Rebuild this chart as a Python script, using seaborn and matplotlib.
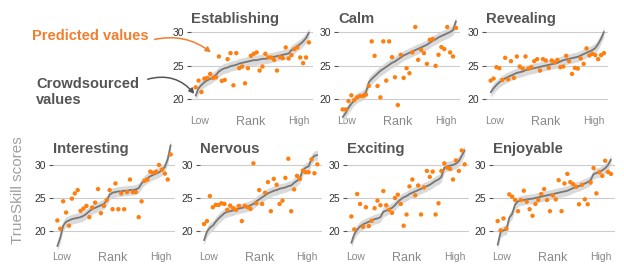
import numpy as np
import matplotlib
matplotlib.use("Agg")
import matplotlib.pyplot as plt
import seaborn as sns

# ---------------------------
# Data
# ---------------------------
establishing_crowd = [20.5, 21.6, 22.1, 22.5, 22.8, 23.0, 23.3, 23.6, 24.1, 24.4,
                      24.6, 24.7, 24.9, 25.0, 25.1, 25.3, 25.4, 25.5, 25.6, 25.7,
                      25.8, 25.8, 25.9, 26.0, 26.0, 26.1, 26.2, 26.3, 26.4, 26.5,
                      26.6, 26.7, 26.8, 27.3, 27.6, 27.9, 28.2, 28.6, 29.1, 29.9]
establishing_pred = [21.75, 22.75, 21.05, 23.05, 23.15, 23.75, 23.15, 23.25, 26.35, 22.7,
                     22.85, 25.95, 26.85, 22.05, 26.85, 24.6, 24.85, 22.35, 24.6, 26.45,
                     26.75, 26.95, 24.25, 24.85, 26.75, 26.2, 26.2, 25.85, 24.25, 26.25,
                     26.1, 27.7, 26.05, 26.55, 27.45, 27.7, 26.2, 25.35, 26.2, 28.45]

calm_crowd = [17.3, 17.9, 18.7, 19.3, 19.8, 20.2, 20.4, 20.6, 21.0, 22.5,
              23.0, 23.4, 23.8, 24.2, 24.5, 24.8, 25.1, 25.4, 25.6, 25.9,
              26.2, 26.5, 26.7, 26.9, 27.1, 27.3, 27.5, 27.7, 27.9, 28.1,
              28.4, 28.7, 28.9, 29.2, 29.4, 29.6, 29.8, 30.0, 30.3, 31.6]
calm_pred = [18.45, 18.45, 19.7, 20.55, 19.85, 20.25, 20.45, 20.45, 20.65, 21.95,
             28.6, 26.45, 21.95, 20.25, 28.6, 22.75, 28.6, 26.25, 23.25, 19.1,
             26.6, 23.15, 24.6, 23.85, 26.95, 30.75, 25.85, 27.35, 26.85, 25.25,
             28.85, 28.95, 24.95, 26.6, 27.75, 27.45, 30.75, 26.95, 26.35, 30.6]

revealing_crowd = [21.0, 21.6, 22.1, 22.5, 22.8, 23.1, 23.3, 23.5, 23.7, 23.9,
                   24.0, 24.1, 24.3, 24.4, 24.5, 24.6, 24.7, 24.8, 24.9, 25.0,
                   25.1, 25.2, 25.3, 25.4, 25.6, 25.8, 25.9, 26.0, 26.1, 26.2,
                   26.3, 26.5, 26.7, 26.9, 27.1, 27.3, 27.6, 28.2, 29.0, 30.0]
revealing_pred = [22.75, 23.05, 24.75, 24.6, 22.85, 26.15, 22.95, 25.65, 23.15, 26.35,
                  24.85, 24.55, 26.35, 24.55, 24.75, 25.65, 25.95, 24.25, 25.95, 25.75,
                  24.65, 25.75, 25.45, 25.85, 24.75, 24.85, 26.45, 25.65, 23.75, 24.65,
                  24.55, 26.05, 25.25, 27.55, 26.5, 26.75, 26.55, 25.95, 26.55, 26.85]

interesting_crowd = [17.7, 19.0, 20.8, 21.4, 21.6, 21.8, 21.9, 22.0, 22.1, 22.3,
                     22.6, 23.0, 23.3, 23.5, 23.7, 23.9, 24.1, 24.6, 25.5, 25.8,
                     25.9, 26.0, 26.0, 26.1, 26.1, 26.2, 26.2, 26.3, 26.5, 27.2,
                     27.7, 28.0, 28.3, 28.5, 28.7, 28.9, 29.2, 29.7, 30.9, 33.0]
interesting_pred = [21.6, 20.35, 24.5, 22.8, 20.8, 24.9, 25.7, 26.2, 23.05, 23.4,
                    23.8, 22.1, 23.55, 24.3, 26.35, 22.7, 23.8, 24.7, 26.2, 23.3,
                    27.2, 23.3, 25.7, 23.3, 25.9, 27.8, 25.9, 25.9, 22.1, 24.5,
                    27.6, 27.8, 29.0, 28.8, 29.0, 30.0, 29.3, 28.7, 27.8, 31.6]

nervous_crowd = [18.6, 19.9, 20.5, 20.8, 21.4, 21.9, 22.3, 22.7, 22.9, 23.0,
                 23.1, 23.3, 23.4, 23.5, 23.6, 23.7, 23.9, 24.1, 24.5, 24.8,
                 25.1, 25.4, 25.7, 25.9, 26.1, 26.2, 26.4, 26.5, 26.6, 26.8,
                 26.9, 27.3, 27.6, 28.0, 29.2, 29.6, 29.8, 30.9, 31.4, 31.5]
nervous_pred = [21.05, 21.5, 25.3, 23.6, 23.95, 23.95, 24.2, 24.1, 23.2, 23.85,
                23.45, 23.2, 23.8, 21.5, 23.8, 23.6, 23.35, 30.25, 24.2, 26.2,
                24.1, 25.8, 27.4, 23.0, 27.9, 27.0, 24.1, 24.6, 28.05, 30.95,
                23.0, 26.3, 28.35, 27.9, 29.15, 28.9, 28.9, 30.85, 28.75, 30.1]

exciting_crowd = [18.2, 19.5, 20.2, 20.7, 21.0, 21.2, 21.4, 21.6, 21.8, 21.9,
                  22.1, 22.9, 23.1, 23.3, 23.5, 23.9, 24.4, 24.8, 25.1, 25.3,
                  25.6, 25.8, 26.0, 26.2, 26.4, 26.6, 26.8, 27.0, 27.3, 27.6,
                  27.8, 28.2, 29.6, 29.8, 29.9, 30.0, 30.2, 30.6, 31.4, 32.2]
exciting_pred = [22.2, 20.25, 25.6, 24.1, 20.65, 23.6, 20.75, 21.55, 23.45, 24.6,
                 23.9, 26.05, 23.9, 23.2, 22.75, 25.0, 25.5, 24.1, 20.8, 22.5,
                 26.75, 27.8, 25.4, 26.9, 22.5, 26.6, 29.1, 28.2, 29.0, 22.5,
                 24.2, 29.1, 30.25, 29.6, 29.4, 27.8, 30.7, 29.1, 32.2, 30.1]

enjoyable_crowd = [17.9, 19.8, 20.1, 20.2, 22.0, 22.6, 24.0, 24.5, 24.6, 24.7,
                   24.8, 24.85, 24.9, 25.0, 25.1, 25.2, 25.3, 25.4, 25.5, 25.6,
                   25.7, 25.8, 25.9, 26.0, 26.1, 26.3, 26.5, 26.7, 26.8, 27.0,
                   27.2, 27.4, 27.7, 28.6, 28.8, 28.9, 29.2, 29.5, 30.0, 30.8]
enjoyable_pred = [21.5, 20.1, 21.9, 20.35, 25.55, 25.2, 24.7, 23.0, 24.7, 26.1,
                  24.45, 23.3, 22.3, 24.1, 24.7, 25.6, 26.35, 24.7, 23.0, 25.4,
                  24.8, 27.7, 23.0, 27.2, 28.65, 27.4, 27.1, 26.7, 24.05, 27.0,
                  24.8, 24.05, 27.35, 29.55, 25.7, 28.9, 28.35, 30.65, 28.95, 28.65]

titles = ["Establishing", "Calm", "Revealing",
          "Interesting", "Nervous", "Exciting", "Enjoyable"]
crowd = [establishing_crowd, calm_crowd, revealing_crowd,
         interesting_crowd, nervous_crowd, exciting_crowd, enjoyable_crowd]
pred = [establishing_pred, calm_pred, revealing_pred,
        interesting_pred, nervous_pred, exciting_pred, enjoyable_pred]
band_halfwidth = 0.75

# ---------------------------
# Style
# ---------------------------
sns.set_theme(style="white")
plt.rcParams["font.family"] = ["Liberation Sans", "DejaVu Sans"]

ORANGE = "#ff7f0e"
LINE = "#777777"
BAND = "#d6d6d6"
TITLE = "#555555"

W, H = 624, 264
fig = plt.figure(figsize=(W / 100, H / 100), dpi=100)

# axes boxes in pixels (top edge, height) per row, plus left edges
top_rows = dict(top=18.6, height=97.2, ylim=(17.5, 32.0), pad=0.5, title_y=0.958)
bot_rows = dict(top=141.9, height=105.6, ylim=(17.5, 33.5), pad=3.0, title_y=0.892)
lefts = [191.3, 338.3, 486.3, 53.0, 199.7, 347.0, 493.3]
AX_W = 122.0

for i, name in enumerate(titles):
    row = top_rows if i < 3 else bot_rows
    l = lefts[i]
    ax = fig.add_axes([l / W, 1 - (row["top"] + row["height"]) / H,
                       AX_W / W, row["height"] / H])
    y = np.array(crowd[i])
    x = np.arange(len(y))
    ax.fill_between(x, y - band_halfwidth, y + band_halfwidth, color=BAND,
                    lw=0, alpha=0.9, clip_on=False, zorder=1)
    sns.lineplot(x=x, y=y, ax=ax, color=LINE, lw=1.3, zorder=2)
    ax.lines[-1].set_clip_on(False)
    sns.scatterplot(x=x, y=pred[i], ax=ax, color=ORANGE, s=10,
                    edgecolor="none", zorder=3)

    ax.set_xlim(-1.5, 40.5)
    ax.set_ylim(*row["ylim"])
    ax.set_yticks([20, 25, 30])
    ax.yaxis.grid(True, color="#cccccc", lw=0.8)
    ax.xaxis.grid(False)
    for s in ax.spines.values():
        s.set_visible(False)
    ax.tick_params(axis="y", left=True, length=3, width=0.8, color="#555555",
                   labelsize=7.5, labelcolor="#333333", pad=2)
    ax.set_xticks([1.5, 19.0, 35.5])
    ax.set_xticklabels(["Low", "Rank", "High"])
    ax.tick_params(axis="x", bottom=False, length=0, labelsize=7.5,
                   labelcolor="#888888", pad=row["pad"])
    ax.get_xticklabels()[1].set_fontsize(9)
    ax.set_xlabel("")
    ax.set_ylabel("")
    ax.text(0.0, row["title_y"], name, transform=ax.transAxes, ha="left",
            va="baseline", fontsize=10.7, fontweight="bold", color=TITLE)

# y label
fig.text(18 / W, 1 - 190 / H, "TrueSkill scores", rotation=90, ha="center",
         va="center", fontsize=11, color="#a0a0a0")

# annotations
fig.text(32 / W, 1 - 36 / H, "Predicted values", ha="left", va="center",
         fontsize=10.5, fontweight="bold", color="#f07f2e")
fig.text(36 / W, 1 - 92 / H, "Crowdsourced\nvalues", ha="left", va="center",
         fontsize=10.5, fontweight="bold", color="#555555", linespacing=1.15)

fig.add_artist(matplotlib.patches.FancyArrowPatch(
    (152 / W, 1 - 40 / H), (213 / W, 1 - 54 / H), transform=fig.transFigure,
    connectionstyle="arc3,rad=-0.25", arrowstyle="-|>,head_length=3,head_width=1.6",
    color="#f07f2e", lw=1.1))
fig.add_artist(matplotlib.patches.FancyArrowPatch(
    (145 / W, 1 - 80 / H), (196 / W, 1 - 96 / H), transform=fig.transFigure,
    connectionstyle="arc3,rad=-0.35", arrowstyle="-|>,head_length=3,head_width=1.6",
    color="#555555", lw=1.1))

fig.savefig("out.png", dpi=100)
